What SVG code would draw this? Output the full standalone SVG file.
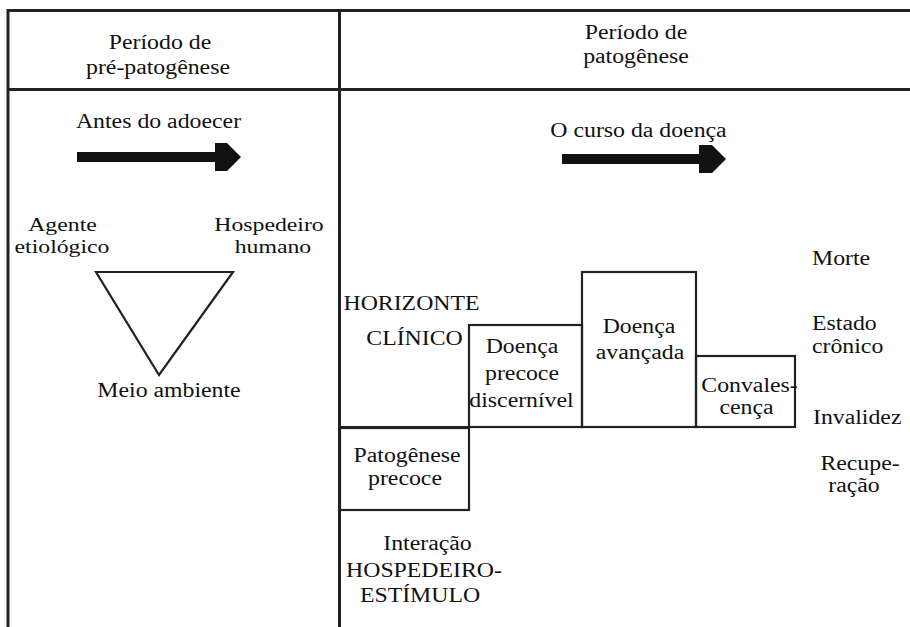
<svg xmlns="http://www.w3.org/2000/svg" width="910" height="627" viewBox="0 0 910 627">
<style>
.t{font-family:'Liberation Serif','Times New Roman','DejaVu Serif',serif;font-size:20px;fill:#111;text-anchor:middle}
.s{text-anchor:start}
.frame{stroke:#222;stroke-width:3;fill:none}
.box{stroke:#222;stroke-width:2.2;fill:none}
.arr{fill:#111;stroke:none}
</style>
<rect width="910" height="627" fill="#fff"/>
<g id="frame">
<line class="frame" x1="8" y1="10.5" x2="910" y2="10.5"/>
<line class="frame" x1="8" y1="89.5" x2="910" y2="89.5"/>
<line class="frame" x1="8" y1="9" x2="8" y2="627"/>
<line class="frame" x1="339.5" y1="9" x2="339.5" y2="627"/>
</g>
<g font-family="'Liberation Serif', 'Times New Roman', serif">
<g id="header-pre">
<text class="t" transform="translate(160,49) scale(1.19,1)">Período de</text>
<text class="t" transform="translate(158,74) scale(1.19,1)">pré-patogênese</text>
</g>
<g id="header-pat">
<text class="t" transform="translate(636,39) scale(1.19,1)">Período de</text>
<text class="t" transform="translate(636,63) scale(1.19,1)">patogênese</text>
</g>
<g id="connectors">
<path class="arr" d="M77,152 H215 V143 H227 L241,157 L227,171 H215 V162 H77 Z"/>
<path class="arr" d="M562,154 H699 V145 H712 L726,159 L712,173 H699 V164 H562 Z"/>
</g>
<g id="antes">
<text class="t" transform="translate(158.5,128) scale(1.19,1)">Antes do adoecer</text>
</g>
<g id="curso">
<text class="t" transform="translate(638.5,137) scale(1.19,1)">O curso da doença</text>
</g>
<g id="agente">
<text class="t" style="font-size:19px" transform="translate(62.5,231) scale(1.25,1)">Agente</text>
<text class="t" style="font-size:19px" transform="translate(62,253) scale(1.25,1)">etiológico</text>
</g>
<g id="hospedeiro">
<text class="t" style="font-size:19px" transform="translate(269,231) scale(1.25,1)">Hospedeiro</text>
<text class="t" style="font-size:19px" transform="translate(273,253) scale(1.25,1)">humano</text>
</g>
<g id="triangulo">
<polygon class="box" points="96,272 233,272 159,375"/>
</g>
<g id="meio">
<text class="t" transform="translate(169,397) scale(1.19,1)">Meio ambiente</text>
</g>
<g id="horizonte">
<text class="t" transform="translate(411.5,310) scale(1.19,1)">HORIZONTE</text>
<text class="t" transform="translate(414.5,345) scale(1.19,1)">CLÍNICO</text>
</g>
<g id="doenca-precoce">
<rect class="box" x="469" y="325" width="113" height="102"/>
<text class="t" transform="translate(522,353) scale(1.19,1)">Doença</text>
<text class="t" transform="translate(522,380) scale(1.19,1)">precoce</text>
<text class="t" transform="translate(521.5,407) scale(1.19,1)">discernível</text>
</g>
<g id="doenca-avancada">
<rect class="box" x="582" y="272" width="114" height="155"/>
<text class="t" transform="translate(639,333) scale(1.19,1)">Doença</text>
<text class="t" transform="translate(640,359) scale(1.19,1)">avançada</text>
</g>
<g id="convalescenca">
<rect class="box" x="696" y="356" width="99" height="71"/>
<text class="t" transform="translate(749.5,392) scale(1.19,1)">Convales-</text>
<text class="t" transform="translate(746.5,414) scale(1.19,1)">cença</text>
</g>
<g id="baseline">
<line class="box" x1="340" y1="427" x2="469" y2="427"/>
</g>
<g id="patogenese-precoce">
<rect class="box" x="340" y="428" width="129" height="82"/>
<text class="t" transform="translate(407,462) scale(1.19,1)">Patogênese</text>
<text class="t" transform="translate(405,485) scale(1.19,1)">precoce</text>
</g>
<g id="interacao">
<text class="t" transform="translate(427.5,550) scale(1.19,1)">Interação</text>
<text class="t" transform="translate(424,577) scale(1.19,1)">HOSPEDEIRO-</text>
<text class="t" transform="translate(420,602) scale(1.19,1)">ESTÍMULO</text>
</g>
<g id="morte">
<text class="t s" transform="translate(812,265) scale(1.19,1)">Morte</text>
</g>
<g id="estado">
<text class="t s" transform="translate(812,330) scale(1.19,1)">Estado</text>
<text class="t s" transform="translate(812,353) scale(1.19,1)">crônico</text>
</g>
<g id="invalidez">
<text class="t s" transform="translate(813,424) scale(1.19,1)">Invalidez</text>
</g>
<g id="recuperacao">
<text class="t" transform="translate(860,470) scale(1.19,1)">Recupe-</text>
<text class="t" transform="translate(854,492) scale(1.19,1)">ração</text>
</g>
</g>
</svg>
